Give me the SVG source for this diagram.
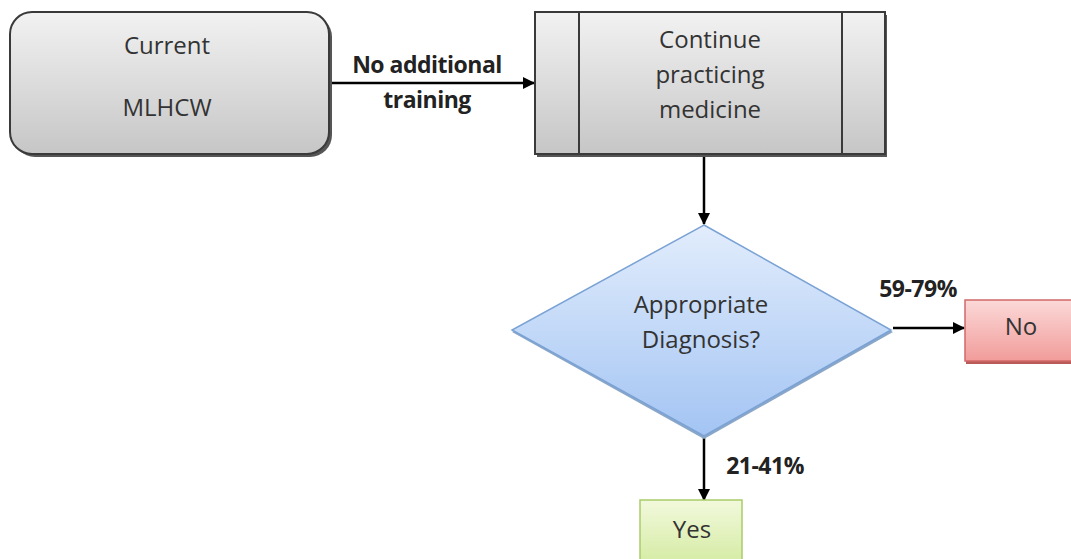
<svg xmlns="http://www.w3.org/2000/svg" width="1071" height="559" viewBox="0 0 1071 559">
<defs>
<linearGradient id="gGray" x1="0" y1="0" x2="0" y2="1"><stop offset="0" stop-color="#f2f2f2"/><stop offset="1" stop-color="#c6c6c6"/></linearGradient>
<linearGradient id="gBlue" x1="0" y1="0" x2="0" y2="1"><stop offset="0" stop-color="#e2edfc"/><stop offset="1" stop-color="#a3c4f3"/></linearGradient>
<linearGradient id="gRed" x1="0" y1="0" x2="0" y2="1"><stop offset="0" stop-color="#fbd9d8"/><stop offset="1" stop-color="#f19c9a"/></linearGradient>
<linearGradient id="gGreen" x1="0" y1="0" x2="0" y2="1"><stop offset="0" stop-color="#f2f9dc"/><stop offset="1" stop-color="#d2ea9e"/></linearGradient>
<marker id="arr" markerWidth="12" markerHeight="12" refX="11" refY="6" orient="auto" markerUnits="userSpaceOnUse"><path d="M0,0 L12,6 L0,12 Z" fill="#000"/></marker>
</defs>
<style>
.t{font-family:"Open Sans","Liberation Sans",sans-serif;font-size:24px;fill:#333;text-anchor:middle}
.b{font-family:"Open Sans","Liberation Sans",sans-serif;font-size:23px;font-weight:bold;fill:#222;text-anchor:middle;letter-spacing:-0.5px}
.c{stroke:#000;stroke-width:2.5;fill:none;marker-end:url(#arr)}
.gray{fill:url(#gGray);stroke:#3a3a3a;stroke-width:2}
.sh{fill:#555}
</style>
<g id="connectors">
<line class="c" x1="332" y1="83" x2="534" y2="83"/>
<line class="c" x1="704" y1="156" x2="704" y2="224"/>
<line class="c" x1="893" y1="328" x2="964" y2="328"/>
<line class="c" x1="704" y1="437" x2="704" y2="500"/>
<text class="b" x="427" y="73">No additional</text>
<text class="b" x="427" y="108">training</text>
<text class="b" x="918" y="297">59-79%</text>
<text class="b" x="765" y="474">21-41%</text>
</g>
<g id="current">
<rect x="13" y="15" width="319" height="142" rx="22" class="sh"/>
<rect x="10" y="12" width="319" height="142" rx="22" class="gray"/>
<text class="t" x="167" y="54">Current</text>
<text class="t" x="167" y="116">MLHCW</text>
</g>
<g id="continue">
<rect x="537" y="15" width="350" height="142" class="sh"/>
<rect x="535" y="12" width="350" height="142" class="gray"/>
<line x1="579" y1="12" x2="579" y2="154" stroke="#3a3a3a" stroke-width="2"/>
<line x1="842" y1="12" x2="842" y2="154" stroke="#3a3a3a" stroke-width="2"/>
<text class="t" x="710" y="48">Continue</text>
<text class="t" x="710" y="83">practicing</text>
<text class="t" x="710" y="118">medicine</text>
</g>
<g id="diagnosis">
<polygon points="704,227 893,332 704,439 512,332" fill="#8aa6c8"/>
<polygon points="704,225 891,330 704,436 512,330" fill="url(#gBlue)" stroke="#7aa2d4" stroke-width="1.5"/>
<text class="t" x="701" y="313">Appropriate</text>
<text class="t" x="701" y="348">Diagnosis?</text>
</g>
<g id="no">
<rect x="966" y="302" width="110" height="62" fill="#b85a58"/>
<rect x="965" y="300" width="110" height="61" fill="url(#gRed)" stroke="#d06a68" stroke-width="1.5"/>
<text class="t" x="1021" y="335">No</text>
</g>
<g id="yes">
<rect x="640" y="500" width="102" height="70" fill="url(#gGreen)" stroke="#a9cc6a" stroke-width="1.5"/>
<text class="t" x="692" y="538">Yes</text>
</g>
</svg>
